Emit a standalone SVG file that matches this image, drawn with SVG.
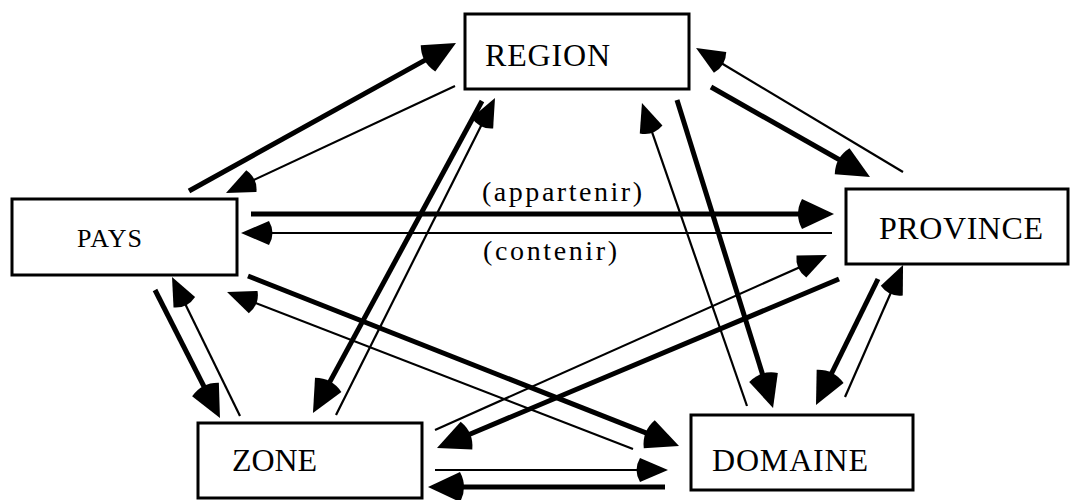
<svg xmlns="http://www.w3.org/2000/svg" width="1070" height="500" viewBox="0 0 1070 500">
<style>
.box{fill:#fff;stroke:#000;stroke-width:3}
text{font-family:'Liberation Serif','Times New Roman',serif;font-size:32px;fill:#000}
.small{font-size:26px}
.rel{font-size:28px}
.thick{stroke:#000;stroke-width:5;fill:none;marker-end:url(#hk)}
.thin{stroke:#000;stroke-width:2.2;fill:none;marker-end:url(#hn)}
</style>
<defs>
<marker id="hk" markerUnits="userSpaceOnUse" viewBox="-20 -20 50 40" refX="0" refY="0" markerWidth="50" markerHeight="40" orient="auto" overflow="visible">
<path d="M24 0 L-8 -15 Q-16 0 -8 15 Z" fill="#000"/>
</marker>
<marker id="hn" markerUnits="userSpaceOnUse" viewBox="-20 -20 50 40" refX="0" refY="0" markerWidth="50" markerHeight="40" orient="auto" overflow="visible">
<path d="M20 0 L-8 -12 Q-15 0 -8 12 Z" fill="#000"/>
</marker>
</defs>
<rect width="1070" height="500" fill="#fff"/>
<g id="connectors">
<line class="thick" x1="189" y1="191" x2="435.0" y2="54.6"/>
<line class="thin" x1="455" y1="86" x2="244.1" y2="184.5"/>
<line class="thick" x1="251" y1="214" x2="810" y2="214"/>
<line class="thin" x1="832" y1="233" x2="261" y2="233"/>
<line class="thick" x1="711" y1="87" x2="849.1" y2="165.2"/>
<line class="thin" x1="903" y1="172" x2="713.2" y2="58.3"/>
<line class="thin" x1="336" y1="415" x2="486.0" y2="115.9"/>
<line class="thick" x1="482" y1="101" x2="324.4" y2="391.9"/>
<line class="thin" x1="747" y1="406" x2="648.5" y2="121.9"/>
<line class="thick" x1="677" y1="100" x2="765.9" y2="385.1"/>
<line class="thick" x1="155" y1="290" x2="209.1" y2="396.6"/>
<line class="thin" x1="240" y1="416" x2="180.8" y2="295.0"/>
<line class="thick" x1="248" y1="276" x2="656.7" y2="437.2"/>
<line class="thin" x1="633" y1="449" x2="245.7" y2="299.2"/>
<line class="thin" x1="435" y1="430" x2="808.7" y2="263.2"/>
<line class="thick" x1="839" y1="279" x2="459.1" y2="438.7"/>
<line class="thick" x1="878" y1="279" x2="826.6" y2="383.5"/>
<line class="thin" x1="845" y1="397" x2="895.0" y2="283.3"/>
<line class="thin" x1="435" y1="470" x2="648" y2="470"/>
<line class="thick" x1="665" y1="487" x2="452" y2="487"/>
<text class="rel" font-family="Liberation Serif, Times New Roman, serif" x="482" y="201" textLength="160" lengthAdjust="spacing">(appartenir)</text>
<text class="rel" font-family="Liberation Serif, Times New Roman, serif" x="483" y="260" textLength="134" lengthAdjust="spacing">(contenir)</text>
</g>
<g id="region">
<rect class="box" x="465" y="14" width="224" height="75"/>
<text font-family="Liberation Serif, Times New Roman, serif" x="485" y="66" textLength="125" lengthAdjust="spacing">REGION</text>
</g>
<g id="pays">
<rect class="box" x="12" y="199" width="225" height="76"/>
<text class="small" font-family="Liberation Serif, Times New Roman, serif" x="77" y="247" textLength="65" lengthAdjust="spacing">PAYS</text>
</g>
<g id="province">
<rect class="box" x="846" y="189" width="222" height="75"/>
<text font-family="Liberation Serif, Times New Roman, serif" x="879" y="239" textLength="164" lengthAdjust="spacing">PROVINCE</text>
</g>
<g id="zone">
<rect class="box" x="198" y="423" width="224" height="75"/>
<text font-family="Liberation Serif, Times New Roman, serif" x="232" y="471" textLength="85" lengthAdjust="spacing">ZONE</text>
</g>
<g id="domaine">
<rect class="box" x="691" y="415" width="222" height="75"/>
<text font-family="Liberation Serif, Times New Roman, serif" x="712" y="471" textLength="156" lengthAdjust="spacing">DOMAINE</text>
</g>
</svg>
